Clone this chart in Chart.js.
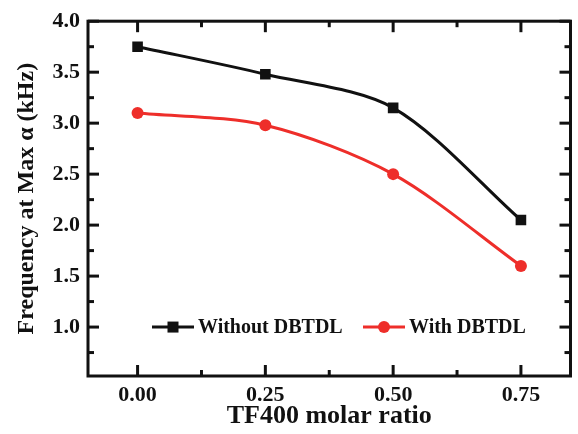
<!DOCTYPE html>
<html>
<head>
<meta charset="utf-8">
<script src="https://cdn.jsdelivr.net/npm/chart.js@4.4.0/dist/chart.umd.min.js"></script>
<style>
  html, body { margin: 0; padding: 0; background: #fff; }
  #wrap { width: 578px; height: 434px; }
</style>
</head>
<body>
<div id="wrap"><canvas id="chart"></canvas></div>
<script>
// Data
const molarRatios = [0.00, 0.25, 0.50, 0.75];
const withoutDbtdl = [3.75, 3.48, 3.15, 2.05];
const withDbtdl = [3.10, 2.98, 2.50, 1.60];

// Tick positions
const xTickValues = [0.00, 0.25, 0.50, 0.75];
const xMinorValues = [0.125, 0.375, 0.625];
const yTickValues = [1.0, 1.5, 2.0, 2.5, 3.0, 3.5, 4.0];
const yMinorValues = [0.75, 1.25, 1.75, 2.25, 2.75, 3.25, 3.75];

const BLACK = '#111111';
const RED = '#ee2e2a';

function toPoints(values) {
  return molarRatios.map((x, i) => ({ x: x, y: values[i] }));
}

/**
 * Frame with inward ticks on all four sides
 */
const framePlugin = {
  id: 'frame',
  afterDraw(chart) {
    const { ctx, chartArea: a, scales } = chart;
    ctx.save();
    ctx.strokeStyle = BLACK;
    ctx.lineWidth = 3;
    ctx.strokeRect(a.left, a.top, a.right - a.left, a.bottom - a.top);

    const tick = (x1, y1, x2, y2) => {
      ctx.beginPath();
      ctx.moveTo(x1, y1);
      ctx.lineTo(x2, y2);
      ctx.stroke();
    };
    const drawX = (values, len) => values.forEach(v => {
      const px = scales.x.getPixelForValue(v);
      tick(px, a.bottom, px, a.bottom - len);
      tick(px, a.top, px, a.top + len);
    });
    const drawY = (values, len) => values.forEach(v => {
      const py = scales.y.getPixelForValue(v);
      tick(a.left, py, a.left + len, py);
      tick(a.right, py, a.right - len, py);
    });
    drawX(xTickValues, 11);
    drawX(xMinorValues, 6);
    drawY(yTickValues, 11);
    drawY(yMinorValues, 6);
    ctx.restore();
  }
};

/**
 * Legend drawn inside the plot area, on one row
 */
const legendPlugin = {
  id: 'innerLegend',
  afterDraw(chart) {
    const { ctx, chartArea: a, scales } = chart;
    const y = scales.y.getPixelForValue(1.0);
    const items = [
      { x: a.left + 64, label: 'Without DBTDL', color: BLACK, shape: 'rect' },
      { x: a.left + 275, label: 'With DBTDL', color: RED, shape: 'circle' }
    ];
    ctx.save();
    ctx.font = 'bold 20px "Liberation Serif"';
    ctx.textBaseline = 'middle';
    items.forEach(item => {
      ctx.strokeStyle = item.color;
      ctx.fillStyle = item.color;
      ctx.lineWidth = 3;
      ctx.beginPath();
      ctx.moveTo(item.x, y);
      ctx.lineTo(item.x + 42, y);
      ctx.stroke();
      const cx = item.x + 21;
      if (item.shape === 'rect') {
        ctx.fillRect(cx - 5.5, y - 5.5, 11, 11);
      } else {
        ctx.beginPath();
        ctx.arc(cx, y, 6, 0, Math.PI * 2);
        ctx.fill();
      }
      ctx.fillStyle = BLACK;
      ctx.fillText(item.label, item.x + 46, y + 1);
    });
    ctx.restore();
  }
};

const ctx = document.getElementById('chart').getContext('2d');

new Chart(ctx, {
  type: 'line',
  data: {
    datasets: [
      {
        label: 'Without DBTDL',
        data: toPoints(withoutDbtdl),
        borderColor: BLACK,
        backgroundColor: BLACK,
        borderWidth: 3,
        pointStyle: 'rect',
        pointRadius: 7.5,
        pointBorderWidth: 0,
        tension: 0.3,
        fill: false
      },
      {
        label: 'With DBTDL',
        data: toPoints(withDbtdl),
        borderColor: RED,
        backgroundColor: RED,
        borderWidth: 3,
        pointStyle: 'circle',
        pointRadius: 6,
        pointBorderWidth: 0,
        tension: 0.3,
        fill: false
      }
    ]
  },
  options: {
    responsive: true,
    maintainAspectRatio: false,
    animation: false,
    layout: {
      padding: { top: 16, right: 3, left: 0, bottom: 0 }
    },
    plugins: {
      legend: { display: false },
      tooltip: { enabled: false }
    },
    scales: {
      x: {
        type: 'linear',
        min: -0.097,
        max: 0.847,
        afterBuildTicks: scale => {
          scale.ticks = xTickValues.map(v => ({ value: v }));
        },
        afterFit: scale => { scale.height = 58; },
        ticks: {
          color: BLACK,
          padding: 6,
          font: { family: 'Liberation Serif', size: 22, weight: 'bold' },
          callback: v => Number(v).toFixed(2)
        },
        grid: { display: false, drawTicks: false },
        border: { display: false },
        title: {
          display: true,
          text: 'TF400 molar ratio',
          color: BLACK,
          padding: { top: 0, bottom: 2 },
          font: { family: 'Liberation Serif', size: 26, weight: 'bold' }
        }
      },
      y: {
        type: 'linear',
        min: 0.52,
        max: 4.0,
        afterBuildTicks: scale => {
          scale.ticks = yTickValues.map(v => ({ value: v }));
        },
        afterFit: scale => { scale.width = 88; },
        ticks: {
          color: BLACK,
          padding: 8,
          font: { family: 'Liberation Serif', size: 22, weight: 'bold' },
          callback: v => Number(v).toFixed(1)
        },
        grid: { display: false, drawTicks: false },
        border: { display: false },
        title: {
          display: true,
          text: 'Frequency at Max α (kHz)',
          color: BLACK,
          padding: { top: 12, bottom: 0 },
          font: { family: 'Liberation Serif', size: 24, weight: 'bold' }
        }
      }
    }
  },
  plugins: [framePlugin, legendPlugin]
});
</script>
</body>
</html>
